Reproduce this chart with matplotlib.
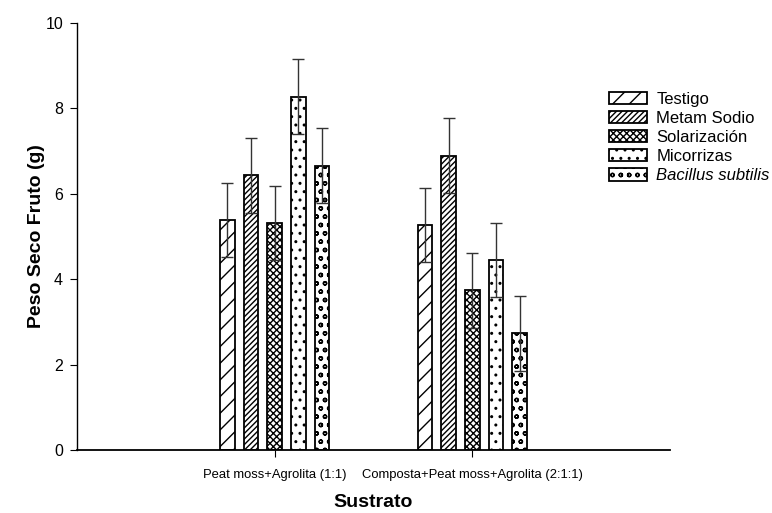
import matplotlib
matplotlib.use("Agg")
import matplotlib.pyplot as plt
import numpy as np

plt.rcParams['font.family'] = ['Liberation Sans', 'DejaVu Sans']
plt.rcParams['hatch.linewidth'] = 1.0

categories = ["Peat moss+Agrolita (1:1)", "Composta+Peat moss+Agrolita (2:1:1)"]
series = ["Testigo", "Metam Sodio", "Solarización", "Micorrizas", "Bacillus subtilis"]
testigo = [5.39, 5.27]
metam = [6.43, 6.89]
solarizacion = [5.32, 3.74]
micorrizas = [8.27, 4.45]
bacillus = [6.66, 2.73]
err_testigo = [0.87, 0.87]
err_metam = [0.88, 0.88]
err_solarizacion = [0.87, 0.88]
err_micorrizas = [0.88, 0.87]
err_bacillus = [0.88, 0.88]

values = [testigo, metam, solarizacion, micorrizas, bacillus]
errors = [err_testigo, err_metam, err_solarizacion, err_micorrizas, err_bacillus]
hatches = ['//', '//////', 'xxxxx', '..', 'oo']

fig = plt.figure(figsize=(7.72, 5.13), dpi=100)
ax = fig.add_axes([77/772, 63/513, 593/772, 427/513])

x = np.arange(1, len(categories) + 1)
width = 0.073
step = 0.1195
for i, (vals, errs, h, name) in enumerate(zip(values, errors, hatches, series)):
    pos = x + (i - 2) * step
    ax.bar(pos, vals, width=width, facecolor='white', edgecolor='black',
           linewidth=1.3, hatch=h, label=name, zorder=2)
    ax.errorbar(pos, vals, yerr=errs, fmt='none', ecolor='#333333',
                elinewidth=1.0, capsize=4.6, capthick=1.0, zorder=3)

ax.set_xlim(0, 3)
ax.set_ylim(0, 10)
ax.set_xticks(x)
ax.set_xticklabels(categories, fontsize=9.4)
ax.set_yticks([0, 2, 4, 6, 8, 10])
ax.tick_params(axis='y', labelsize=11.5, length=5, direction='out', pad=5)
ax.tick_params(axis='x', length=5, direction='out', pad=9)
for s in ['top', 'right']:
    ax.spines[s].set_visible(False)
ax.spines['left'].set_linewidth(1.0)
ax.spines['bottom'].set_linewidth(1.3)

ax.set_ylabel("Peso Seco Fruto (g)", fontsize=14, fontweight='bold', va='center')
ax.yaxis.set_label_coords(-0.069, 0.5)
ax.set_xlabel("Sustrato", fontsize=14, fontweight='bold', va='center')
ax.xaxis.set_label_coords(0.5, -0.124)

leg = fig.legend(loc='upper left', bbox_to_anchor=(602/772, 1 - 85/513),
                 frameon=False, fontsize=12, handlelength=2.3, handleheight=0.75,
                 labelspacing=0.25, handletextpad=0.55, borderaxespad=0)
for t in leg.get_texts():
    if t.get_text() == "Bacillus subtilis":
        t.set_fontstyle('italic')

fig.savefig("out.png", dpi=100)
